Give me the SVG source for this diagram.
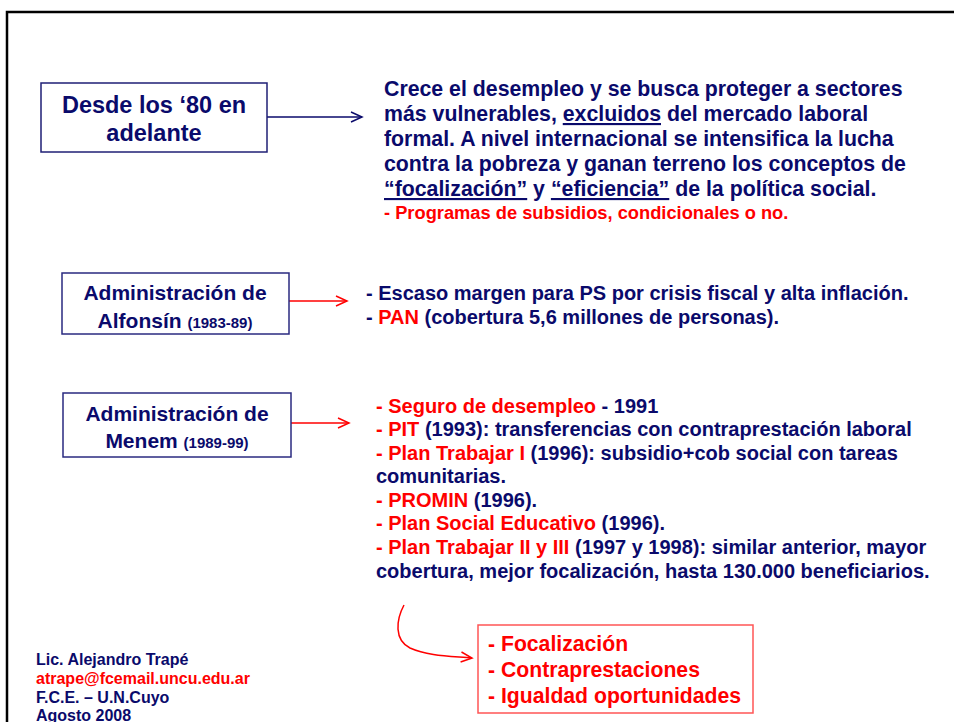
<svg xmlns="http://www.w3.org/2000/svg" width="954" height="722" viewBox="0 0 954 722">
<defs>
<style>
text{font-family:"Liberation Sans",Arial,sans-serif;font-weight:bold}
.nv{fill:#0a0a6b}
.rd{fill:#ff0000}
.box{fill:#fff;stroke:#2a2a80;stroke-width:1.5}
.rbox{fill:#fff;stroke:#ff5555;stroke-width:1.5}
.u{text-decoration:underline}
</style>
<marker id="an" markerWidth="14" markerHeight="12" refX="12" refY="6" orient="auto" markerUnits="userSpaceOnUse">
<path d="M1,1 L12,6 L1,11" fill="none" stroke="#0a0a6b" stroke-width="1.5"/>
</marker>
<marker id="ar" markerWidth="14" markerHeight="12" refX="12" refY="6" orient="auto" markerUnits="userSpaceOnUse">
<path d="M1,1 L12,6 L1,11" fill="none" stroke="#ff0000" stroke-width="1.5"/>
</marker>
</defs>
<rect width="954" height="722" fill="#fff"/>
<path d="M960,12 H7 V730" fill="none" stroke="#000" stroke-width="2.5"/>

<g id="connectors">
<line x1="267" y1="117" x2="362" y2="117" stroke="#0a0a6b" stroke-width="1.5" marker-end="url(#an)"/>
<line x1="289" y1="301" x2="347" y2="301" stroke="#ff0000" stroke-width="1.5" marker-end="url(#ar)"/>
<line x1="291" y1="423" x2="349" y2="423" stroke="#ff0000" stroke-width="1.5" marker-end="url(#ar)"/>
<path d="M404,605 C396,620 394,640 410,648 C428,656 450,656 472,658" fill="none" stroke="#ff0000" stroke-width="1.5" marker-end="url(#ar)"/>
</g>

<g id="n-desde">
<rect class="box" x="41" y="83" width="226" height="69" style="stroke:#1f1f75"/>
<text class="nv" x="154" y="113" font-size="23.5" text-anchor="middle">Desde los ‘80 en</text>
<text class="nv" x="154" y="141" font-size="23.5" text-anchor="middle">adelante</text>
</g>

<g id="t-desde">
<text class="nv" x="384" y="96" font-size="21.3">Crece el desempleo y se busca proteger a sectores</text>
<text class="nv" x="384" y="121" font-size="21.3">más vulnerables, <tspan class="u">excluidos</tspan> del mercado laboral</text>
<text class="nv" x="384" y="146" font-size="21.3">formal. A nivel internacional se intensifica la lucha</text>
<text class="nv" x="384" y="171" font-size="21.3">contra la pobreza y ganan terreno los conceptos de</text>
<text class="nv" x="384" y="196" font-size="21.3"><tspan class="u">“focalización”</tspan> y <tspan class="u">“eficiencia”</tspan> de la política social.</text>
<text class="rd" x="384" y="219" font-size="18.3">- Programas de subsidios, condicionales o no.</text>
</g>

<g id="n-alfonsin">
<rect class="box" x="62" y="273" width="227" height="61"/>
<text class="nv" x="175" y="300" font-size="21" text-anchor="middle">Administración de</text>
<text class="nv" x="175" y="328" font-size="21" text-anchor="middle">Alfonsín <tspan font-size="15">(1983-89)</tspan></text>
</g>

<g id="t-alfonsin">
<text class="nv" x="366" y="300" font-size="20">- Escaso margen para PS por crisis fiscal y alta inflación.</text>
<text class="nv" x="366" y="324" font-size="20">- <tspan class="rd">PAN</tspan> (cobertura 5,6 millones de personas).</text>
</g>

<g id="n-menem">
<rect class="box" x="63" y="393" width="228" height="64"/>
<text class="nv" x="177" y="421" font-size="21" text-anchor="middle">Administración de</text>
<text class="nv" x="177" y="448" font-size="21" text-anchor="middle">Menem <tspan font-size="15">(1989-99)</tspan></text>
</g>

<g id="t-menem" font-size="20">
<text class="nv" x="376" y="413"><tspan class="rd">- Seguro de desempleo</tspan> - 1991</text>
<text class="nv" x="376" y="436"><tspan class="rd">- PIT</tspan> (1993): transferencias con contraprestación laboral</text>
<text class="nv" x="376" y="460"><tspan class="rd">- Plan Trabajar I</tspan> (1996): subsidio+cob social con tareas</text>
<text class="nv" x="376" y="483">comunitarias.</text>
<text class="nv" x="376" y="507"><tspan class="rd">- PROMIN</tspan> (1996).</text>
<text class="nv" x="376" y="530"><tspan class="rd">- Plan Social Educativo</tspan> (1996).</text>
<text class="nv" x="376" y="554"><tspan class="rd">- Plan Trabajar II y III</tspan> (1997 y 1998): similar anterior, mayor</text>
<text class="nv" x="376" y="578">cobertura, mejor focalización, hasta 130.000 beneficiarios.</text>
</g>

<g id="n-resumen">
<rect class="rbox" x="478" y="625" width="275" height="88"/>
<text class="rd" x="488" y="651" font-size="21.2">- Focalización</text>
<text class="rd" x="488" y="677" font-size="21.2">- Contraprestaciones</text>
<text class="rd" x="488" y="703" font-size="21.2">- Igualdad oportunidades</text>
</g>

<g id="footer" font-size="16">
<text class="nv" x="36" y="665">Lic. Alejandro Trapé</text>
<text class="rd" x="36" y="684">atrape@fcemail.uncu.edu.ar</text>
<text class="nv" x="36" y="703">F.C.E. – U.N.Cuyo</text>
<text class="nv" x="36" y="721">Agosto 2008</text>
</g>
</svg>
